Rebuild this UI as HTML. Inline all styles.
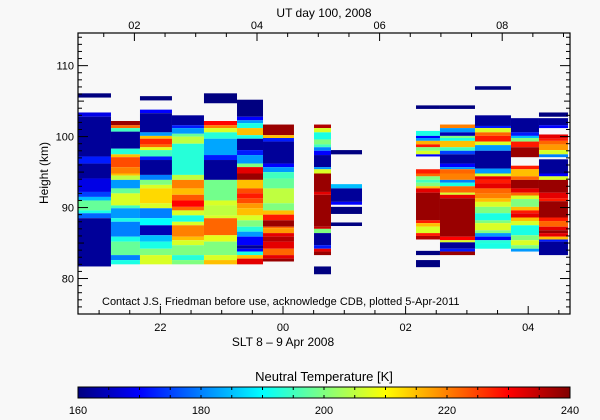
<!DOCTYPE html>
<html><head><meta charset="utf-8">
<style>
html,body{margin:0;padding:0;background:#f8f8f8;}
svg{display:block;font-family:"Liberation Sans","DejaVu Sans",sans-serif;}
</style></head>
<body>
<svg id="chart" width="600" height="420" viewBox="0 0 600 420" xmlns="http://www.w3.org/2000/svg">
<rect x="0" y="0" width="600" height="420" fill="#f8f8f8"/>
<g id="cells"></g>
<g id="axes"></g>
<text x="324" y="17" font-size="12" text-anchor="middle">UT day 100, 2008</text>
<text x="283" y="346" font-size="12" text-anchor="middle">SLT 8 – 9 Apr 2008</text>
<text x="48" y="173" font-size="12" text-anchor="middle" transform="rotate(-90 48 173)">Height (km)</text>
<text x="102" y="305" font-size="11">Contact J.S. Friedman before use, acknowledge CDB, plotted 5-Apr-2011</text>
<text x="324" y="381" font-size="13" text-anchor="middle">Neutral Temperature [K]</text>
<g id="cbar"></g>
</svg>
<script>
const colStart = [-3.344,-2.806,-2.333,-1.811,-1.289,-0.750,-0.326,0.506,0.783,2.170,2.561,3.132,3.719,4.176];
const colEnd   = [-2.806,-2.333,-1.811,-1.289,-0.750,-0.326,0.179,0.783,1.289,2.561,3.132,3.719,4.176,4.649];
const colSegs = [
[[106.1,105.5,160],[103.4,102.8,168],[102.8,97.2,162],[97.2,96.2,172],[96.2,94.1,162],[94.1,92.2,168],[92.2,91.5,175],[91.5,91.0,185],[91.0,89.6,198],[89.6,89.2,192],[89.2,88.5,178],[88.5,81.7,162]],
[[102.2,101.6,238],[101.6,101.2,222],[101.2,100.7,195],[100.7,98.3,162],[98.3,97.5,193],[97.5,97.1,215],[97.1,95.7,224],[95.7,94.8,220],[94.8,94.5,215],[94.5,93.9,205],[93.9,92.7,182],[92.7,92.0,198],[92.0,90.3,207],[90.3,89.9,195],[89.9,88.5,182],[88.5,88.0,192],[88.0,85.9,180],[85.9,85.2,192],[85.2,83.3,198],[83.3,82.6,180],[82.6,82.0,192]],
[[105.7,105.1,160],[103.8,103.3,170],[103.3,100.6,162],[100.6,100.1,182],[100.1,99.7,215],[99.7,98.9,227],[98.9,98.5,222],[98.5,98.1,208],[98.1,97.2,195],[97.2,96.7,172],[96.7,94.6,162],[94.6,93.9,180],[93.9,93.2,200],[93.2,92.7,207],[92.7,90.6,213],[90.6,89.9,207],[89.9,88.5,180],[88.5,87.5,190],[87.5,86.1,164],[86.1,85.2,185],[85.2,84.2,192],[84.2,83.3,200],[83.3,82.0,207]],
[[103.0,101.6,162],[101.6,101.2,172],[101.2,100.4,182],[100.4,100.0,198],[100.0,99.0,205],[99.0,94.6,193],[94.6,93.9,205],[93.9,92.7,220],[92.7,91.8,215],[91.8,91.0,223],[91.0,90.1,230],[90.1,89.6,222],[89.6,88.9,207],[88.9,88.0,192],[88.0,87.5,207],[87.5,85.9,220],[85.9,85.4,215],[85.4,84.7,207],[84.7,83.3,200],[83.3,82.6,193],[82.6,82.0,200]],
[[106.1,104.7,160],[102.2,101.6,230],[101.6,101.2,220],[101.2,100.6,207],[100.6,99.7,193],[99.7,97.4,183],[97.4,96.7,172],[96.7,93.9,162],[93.9,91.0,199],[91.0,90.3,207],[90.3,88.9,205],[88.9,88.5,207],[88.5,86.1,222],[86.1,85.2,208],[85.2,83.3,200],[83.3,82.6,207],[82.6,82.0,215]],
[[105.2,102.8,160],[102.8,102.3,170],[102.3,101.9,182],[101.9,101.2,192],[101.2,100.2,215],[100.2,99.7,192],[99.7,98.1,162],[98.1,97.4,172],[97.4,96.2,182],[96.2,95.7,200],[95.7,94.8,232],[94.8,93.9,238],[93.9,92.7,215],[92.7,92.0,224],[92.0,91.3,228],[91.3,90.6,224],[90.6,89.9,218],[89.9,88.9,215],[88.9,88.2,207],[88.2,87.3,200],[87.3,86.6,193],[86.6,85.9,182],[85.9,84.7,170],[84.7,84.2,162],[84.2,83.8,170],[83.8,83.3,192],[83.3,82.8,215],[82.8,82.0,232]],
[[101.7,100.2,238],[100.2,99.8,215],[99.8,99.3,172],[99.3,96.2,162],[96.2,95.7,170],[95.7,95.0,182],[95.0,94.1,195],[94.1,92.7,198],[92.7,90.6,205],[90.6,89.6,200],[89.6,89.0,215],[89.0,88.2,228],[88.2,87.3,238],[87.3,87.1,222],[87.1,86.4,218],[86.4,85.9,232],[85.9,85.2,236],[85.2,84.2,232],[84.2,83.3,222],[83.3,82.8,232],[82.8,82.4,238]],
[[101.7,101.2,236],[101.2,100.6,207],[100.6,99.6,192],[99.6,98.9,200],[98.9,98.5,195],[98.5,98.0,180],[98.0,97.4,170],[97.4,95.7,162],[95.7,95.4,182],[95.4,94.8,207],[94.8,92.2,238],[92.2,91.8,232],[91.8,87.3,238],[87.3,87.0,234],[87.0,86.4,200],[86.4,84.7,162],[84.7,84.2,172],[84.2,83.8,232],[83.8,83.3,238],[81.7,80.6,160]],
[[98.1,97.5,160],[93.3,92.7,185],[92.7,90.8,162],[90.8,90.4,170],[90.1,89.1,160],[87.9,87.4,160]],
[[104.4,103.9,160],[100.8,100.1,192],[100.1,99.8,170],[99.8,99.4,182],[99.4,98.9,216],[98.9,98.5,228],[98.5,98.0,200],[98.0,97.5,207],[97.5,97.2,170],[95.4,94.8,228],[94.8,94.4,222],[94.4,93.9,200],[93.9,93.5,195],[93.5,93.0,200],[93.0,92.7,215],[92.7,92.1,232],[92.1,88.2,238],[88.2,87.8,228],[87.8,87.3,215],[87.3,86.4,207],[86.4,86.0,228],[86.0,85.5,236],[83.9,83.3,160],[82.6,81.6,160]],
[[104.4,103.9,160],[101.7,101.2,220],[101.2,100.6,182],[100.6,100.1,164],[100.1,99.8,200],[99.8,99.4,192],[99.4,98.5,215],[98.5,98.0,195],[98.0,97.5,175],[97.5,96.2,162],[96.2,95.7,170],[95.7,95.4,182],[95.4,94.8,222],[94.8,93.9,220],[93.9,93.5,180],[93.5,93.0,192],[93.0,92.1,222],[92.1,91.8,207],[91.8,91.3,232],[91.3,85.9,238],[85.9,85.4,230],[85.4,85.1,207],[85.1,84.2,162],[84.2,83.8,172],[83.8,83.3,238]],
[[107.1,106.6,160],[103.0,101.5,162],[101.5,101.2,172],[101.2,100.6,207],[100.6,100.1,222],[100.1,99.3,228],[99.3,98.8,207],[98.8,98.0,182],[98.0,95.5,162],[95.5,94.8,182],[94.8,94.4,207],[94.4,93.9,232],[93.9,93.4,228],[93.4,92.7,232],[92.7,92.0,222],[92.0,91.3,220],[91.3,90.8,215],[90.8,90.1,207],[90.1,89.2,200],[89.2,88.2,192],[88.2,87.8,200],[87.8,86.8,207],[86.8,86.4,200],[86.4,85.9,182],[85.9,85.4,170],[85.4,85.0,193],[85.0,84.2,192]],
[[102.6,100.6,162],[100.6,100.1,172],[100.1,99.8,185],[99.8,99.3,200],[99.3,98.5,228],[98.5,97.1,238],[95.9,95.4,228],[95.4,94.4,215],[94.4,93.9,222],[93.9,92.7,238],[92.7,92.1,232],[92.1,91.7,222],[91.7,91.2,207],[91.2,90.1,200],[90.1,89.6,215],[89.6,89.2,228],[89.2,88.6,232],[88.6,88.1,215],[88.1,87.5,207],[87.5,86.1,192],[86.1,85.4,200],[85.4,84.7,207],[84.7,84.2,200],[84.2,83.8,182]],
[[103.4,102.8,160],[102.6,101.6,162],[101.6,101.2,170],[100.3,99.7,232],[99.7,99.4,228],[99.4,98.9,222],[98.9,98.1,218],[98.1,97.5,207],[97.5,97.1,180],[96.8,94.8,162],[94.8,94.4,170],[94.4,93.9,207],[93.9,92.1,238],[92.1,91.3,232],[91.3,90.9,228],[90.9,88.6,238],[88.6,88.1,228],[88.1,87.3,222],[87.3,86.8,232],[86.8,86.4,238],[86.4,85.9,232],[85.9,85.5,215],[85.5,85.2,172],[85.2,83.3,162]]
];
const yTicks = [80,90,100,110];
const xTickHours = [-2,0,2,4];
const xTickLabels = ["22","00","02","04"];
const topTickHours = [2,4,6,8];
const topTickLabels = ["02","04","06","08"];
const cbTicks = [160,180,200,220,240];

const NS="http://www.w3.org/2000/svg";
const X0=78,X1=570,Y0=33,Y1=314;
const hMin=-3.344,hMax=4.682,kMin=75,kMax=114.6;
const utOffset=4.424;
function xs(h){return X0+(h-hMin)/(hMax-hMin)*(X1-X0);}
function ys(k){return Y1-(k-kMin)/(kMax-kMin)*(Y1-Y0);}
function jet(T){let t=(T-160)/80;t=Math.max(0,Math.min(1,t));
 const c=v=>Math.round(255*Math.max(0,Math.min(1,v)));
 return `rgb(${c(1.5-Math.abs(4*t-3))},${c(1.5-Math.abs(4*t-2))},${c(1.5-Math.abs(4*t-1))})`;}
function mk(tag,attrs,parent){const e=document.createElementNS(NS,tag);for(const k in attrs)e.setAttribute(k,attrs[k]);parent.appendChild(e);return e;}

const cells=document.getElementById('cells');
colSegs.forEach((segs,i)=>{
 const xa=xs(colStart[i]),xb=xs(colEnd[i]);
 segs.forEach(s=>{
  const r=mk('rect',{x:xa,y:ys(s[0]),width:xb-xa,height:ys(s[1])-ys(s[0]),fill:jet(s[2])},cells);
  
  
 });
});

const ax=document.getElementById('axes');
const frame=mk('rect',{x:X0,y:Y0,width:X1-X0,height:Y1-Y0,fill:'none',stroke:'#000','stroke-width':1.2},ax);


for(let k=76;k<=114;k++){
 const y=ys(k),L=(k%5===0)?(k%10===0?10:6):4;
 mk('line',{x1:X0,y1:y,x2:X0+L,y2:y,stroke:'#000'},ax);
 mk('line',{x1:X1,y1:y,x2:X1-L,y2:y,stroke:'#000'},ax);
}
yTicks.forEach(k=>{const t=mk('text',{x:X0-4,y:ys(k)+4,'font-size':11,'text-anchor':'end'},ax);t.textContent=k;
 
 });
for(let h=-3;h<=4.5;h+=0.5){const x=xs(h),L=(Math.abs(h%2)<1e-6)?8:4;
 mk('line',{x1:x,y1:Y1,x2:x,y2:Y1-L,stroke:'#000'},ax);}
xTickHours.forEach((h,i)=>{const t=mk('text',{x:xs(h),y:331,'font-size':11,'text-anchor':'middle'},ax);t.textContent=xTickLabels[i];
 
 });
for(let u=1;u<=9;u+=0.5){const x=xs(u-utOffset);if(x<X0||x>X1)continue;const L=(Math.abs(u%2)<1e-6)?8:4;
 mk('line',{x1:x,y1:Y0,x2:x,y2:Y0+L,stroke:'#000'},ax);}
topTickHours.forEach((u,i)=>{const t=mk('text',{x:xs(u-utOffset),y:29,'font-size':11,'text-anchor':'middle'},ax);t.textContent=topTickLabels[i];
 
 });

const cb=document.getElementById('cbar');
const CB0=78,CB1=570,CBy=387,CBh=11;
const defs=mk('defs',{},cb);const g=mk('linearGradient',{id:'jetg',x1:0,x2:1,y1:0,y2:0},defs);
for(let i=0;i<=16;i++){mk('stop',{offset:(i/16),'stop-color':jet(160+80*i/16)},g);}
mk('rect',{x:CB0,y:CBy,width:CB1-CB0,height:CBh,fill:'url(#jetg)',stroke:'#000'},cb);
for(let v=160;v<=240;v+=5){const x=CB0+(v-160)/80*(CB1-CB0);
 mk('line',{x1:x,y1:CBy,x2:x,y2:CBy+3,stroke:'#000'},cb);mk('line',{x1:x,y1:CBy+CBh,x2:x,y2:CBy+CBh-3,stroke:'#000'},cb);}
cbTicks.forEach(v=>{const t=mk('text',{x:CB0+(v-160)/80*(CB1-CB0),y:414,'font-size':11,'text-anchor':'middle'},cb);t.textContent=v;
 
 });
</script>
</body></html>
